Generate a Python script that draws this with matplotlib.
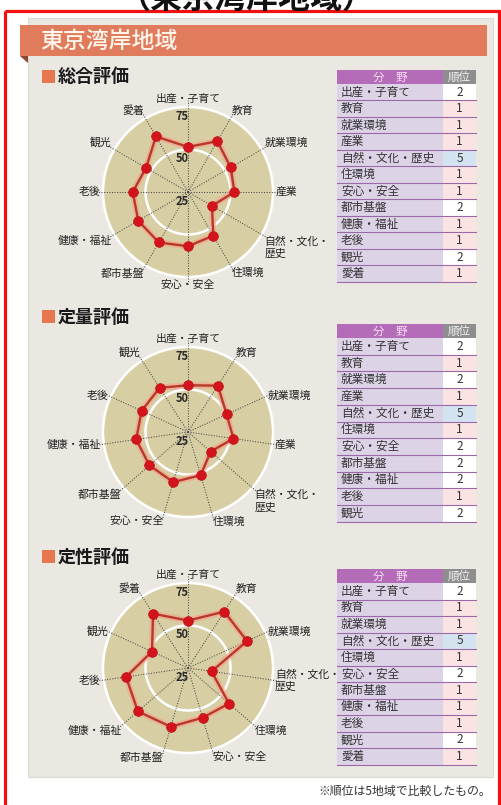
import numpy as np
import matplotlib
matplotlib.use('Agg')
import matplotlib.pyplot as plt
from matplotlib.patches import Rectangle, Polygon

plt.rcParams['font.family'] = ['Noto Sans CJK JP', 'DejaVu Sans']

W, H = 502, 805

# ---------------- data ----------------
region_title = '（東京湾岸地域）'
panel_title = '東京湾岸地域'
note_text = '※順位は5地域で比較したもの。'
sec_titles = ['総合評価', '定量評価', '定性評価']
table_head = ['分　野', '順位']
rticks = [25, 50, 75]

cats1 = ['出産・子育て', '教育', '就業環境', '産業', '自然・文化・歴史', '住環境',
         '安心・安全', '都市基盤', '健康・福祉', '老後', '観光', '愛着']
vals1 = [51.5, 59.5, 54.0, 52.3, 41.3, 54.7, 56.9, 59.3, 58.8, 57.5, 53.5, 62.7]
ranks1 = [2, 1, 1, 1, 5, 1, 1, 2, 1, 1, 2, 1]

cats2 = ['出産・子育て', '教育', '就業環境', '産業', '自然・文化・歴史', '住環境',
         '安心・安全', '都市基盤', '健康・福祉', '老後', '観光']
vals2 = [52.5, 57.4, 50.0, 52.0, 42.6, 51.5, 55.7, 55.0, 55.8, 55.0, 55.9]
ranks2 = [2, 1, 2, 1, 5, 1, 2, 2, 2, 1, 2]

cats3 = ['出産・子育て', '教育', '就業環境', '自然・文化・歴史', '住環境', '安心・安全',
         '都市基盤', '健康・福祉', '老後', '観光', '愛着']
vals3 = [52.9, 64.4, 63.2, 39.0, 56.9, 55.5, 61.0, 64.0, 61.8, 48.3, 63.0]
ranks3 = [2, 1, 1, 5, 1, 2, 1, 1, 1, 2, 1]

# ---------------- figure ----------------
fig = plt.figure(figsize=(W / 100, H / 100), dpi=100)
fig.patch.set_facecolor('white')
ax0 = fig.add_axes([0, 0, 1, 1])
ax0.set_xlim(0, W)
ax0.set_ylim(H, 0)
ax0.axis('off')

# top title (partly cut off by the image edge, as in the reference)
ax0.text(247, 8, region_title, ha='center', va='baseline', fontsize=23,
         fontweight='bold', color='#111111')

# red frame
ax0.add_patch(Rectangle((5, 11), 494, 900, facecolor='none', edgecolor='#f01010',
                        lw=2.3, zorder=1))
# panel
ax0.add_patch(Rectangle((28, 18), 465, 759, facecolor='#ebe8e2', edgecolor='#dcd8d2',
                        lw=0.8, zorder=2))
# header bar
ax0.add_patch(Rectangle((20, 25), 467, 31, facecolor='#e07b5c', edgecolor='none', zorder=3))
ax0.add_patch(Polygon([(20, 56), (28, 56), (28, 63)], closed=True,
                      facecolor='#8a4632', edgecolor='none', zorder=3))
ax0.text(40, 41.5, panel_title, ha='left', va='center', fontsize=16.5,
         color='#fff6ec', fontweight='medium', zorder=4)

# note
ax0.text(491, 791, note_text, ha='right', va='center', fontsize=8.6, color='#333333')


def section_title(y, txt):
    ax0.add_patch(Rectangle((42, y - 7), 13, 13, facecolor='#e6784f', edgecolor='none',
                            zorder=4))
    ax0.text(58, y, txt, ha='left', va='center', fontsize=13, fontweight='bold',
             color='#1a1a1a', zorder=4)


rank_col = {1: '#fbe3e3', 2: '#ffffff', 5: '#d3e4f0'}


def draw_table(y0, cats, ranks, hh=14, rh=16.5):
    xa, xb, xc = 337, 443, 476
    ax0.add_patch(Rectangle((xa, y0), xb - xa, hh, facecolor='#b46cb9', edgecolor='none',
                            zorder=4))
    ax0.add_patch(Rectangle((xb, y0), xc - xb, hh, facecolor='#8e8e8e', edgecolor='none',
                            zorder=4))
    ax0.text((xa + xb) / 2, y0 + hh / 2, table_head[0], ha='center', va='center',
             fontsize=8.3, color='#f7dcf3', zorder=5)
    ax0.text((xb + xc) / 2, y0 + hh / 2, table_head[1], ha='center', va='center',
             fontsize=8.3, color='#f2f2f2', zorder=5)
    for i, (c, r) in enumerate(zip(cats, ranks)):
        y = y0 + hh + i * rh
        ax0.add_patch(Rectangle((xa, y), xb - xa, rh, facecolor='#ddd3e7',
                                edgecolor='none', zorder=4))
        ax0.add_patch(Rectangle((xb, y), xc - xb, rh, facecolor=rank_col[r],
                                edgecolor='none', zorder=4))
        ax0.plot([xa, xc], [y + rh, y + rh], color='#9a6aa8', lw=0.8, zorder=5)
        ax0.text(xa + 4, y + rh / 2, c, ha='left', va='center', fontsize=8.4,
                 color='#333333', zorder=6)
        ax0.text((xb + xc) / 2, y + rh / 2, str(r), ha='center', va='center',
                 fontsize=8.6, color='#333333', zorder=6)


def radar(cx, cy, cats, vals, R=85):
    ax = fig.add_axes([(cx - R) / W, (H - cy - R) / H, 2 * R / W, 2 * R / H],
                      projection='polar')
    ax.set_theta_zero_location('N')
    ax.set_theta_direction(-1)
    ax.set_ylim(25, 75)
    ax.set_facecolor('#d8cea4')
    ax.spines['polar'].set_color('white')
    ax.spines['polar'].set_linewidth(1.8)
    ax.grid(False)
    ax.set_xticks([])
    ax.set_yticks([])
    n = len(cats)
    th = np.arange(n) * 2 * np.pi / n
    tt = np.linspace(0, 2 * np.pi, 300)
    ax.plot(tt, np.full_like(tt, 50.0), color='white', lw=1.8, zorder=2)
    for t in th:
        ax.plot([t, t], [25, 79], color='#4a4a4a', lw=0.75, ls=(0, (1, 1.5)),
                clip_on=False, zorder=3)
    tc = np.append(th, th[0])
    vc = np.append(vals, vals[0])
    ax.plot(tc, vc, color='#f2a58f', lw=4.5, alpha=0.7, zorder=4, solid_joinstyle='round')
    ax.plot(tc, vc, color='#b8392a', lw=1.7, zorder=5)
    ax.plot(th, vals, 'o', color='#d3141c', ms=7.0, mec='#c01018', mew=0.5, zorder=6)
    r_lab = 25 + 50 * 88 / R
    for t, c in zip(th, cats):
        s, co = np.sin(t), np.cos(t)
        ha = 'left' if s > 0.1 else ('right' if s < -0.1 else 'center')
        va = 'bottom' if co > 0.45 else ('top' if co < -0.3 else 'center')
        lab = c.replace('自然・文化・歴史', '自然・文化・\n歴史')
        ax.text(t, r_lab, lab, ha=ha, va=va, fontsize=7.8, color='#222222',
                clip_on=False, linespacing=1.25, multialignment='left', zorder=7)
    for r in rticks:
        ax.annotate(str(r), xy=(0, r), xytext=(-6, -9), textcoords='offset pixels',
                    ha='center', va='center', fontsize=8, color='#2a2a2a',
                    fontweight='bold', zorder=8, annotation_clip=False)
    return ax


section_title(77, sec_titles[0])
section_title(317, sec_titles[1])
section_title(557, sec_titles[2])

draw_table(70, cats1, ranks1)
draw_table(324, cats2, ranks2, rh=16.7)
draw_table(569, cats3, ranks3)

radar(188, 192, cats1, vals1)
radar(188, 432, cats2, vals2)
radar(188, 668, cats3, vals3)

fig.savefig('out.png', dpi=100)
